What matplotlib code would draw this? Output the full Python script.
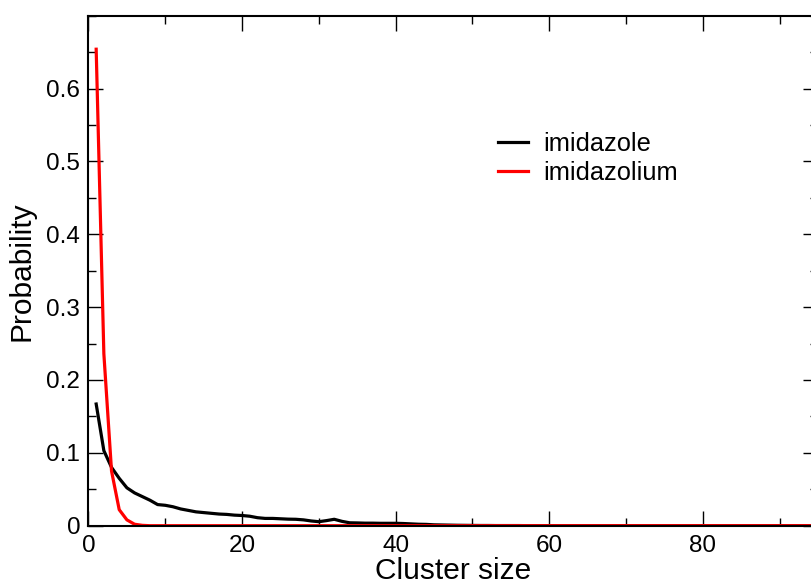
import matplotlib
matplotlib.use('Agg')
import matplotlib.pyplot as plt
from matplotlib.ticker import MultipleLocator

plt.rcParams['font.family'] = ['Liberation Sans', 'DejaVu Sans']

# cluster size 1..95
cluster_size = list(range(1, 96))

# imidazole (black)
imidazole = [
    0.167, 0.103, 0.080, 0.065, 0.052, 0.045, 0.040, 0.035, 0.029, 0.028,
    0.026, 0.023, 0.021, 0.019, 0.018, 0.017, 0.016, 0.0155, 0.0145, 0.014,
    0.013, 0.011, 0.010, 0.010, 0.0095, 0.009, 0.0088, 0.008, 0.0065, 0.0055,
    0.007, 0.0088, 0.006, 0.004, 0.0038, 0.0035, 0.0035, 0.0033, 0.0033, 0.0033,
    0.003, 0.0025, 0.002, 0.0018, 0.0012, 0.001, 0.0008, 0.0006, 0.0005, 0.0004,
    0.0003, 0.0003, 0.0002, 0.0002, 0.0002, 0.0002, 0.0001, 0.0001, 0.0001, 0.0001,
    0.0, 0.0, 0.0, 0.0, 0.0, 0.0, 0.0, 0.0, 0.0, 0.0,
    0.0, 0.0, 0.0, 0.0, 0.0, 0.0, 0.0, 0.0, 0.0, 0.0,
    0.0, 0.0, 0.0, 0.0, 0.0, 0.0, 0.0, 0.0, 0.0, 0.0,
    0.0, 0.0, 0.0, 0.0, 0.0,
]

# imidazolium (red)
imidazolium = [
    0.654, 0.236, 0.075, 0.022, 0.008, 0.002, 0.0005, 0.0, 0.0, 0.0,
    0.0, 0.0, 0.0, 0.0, 0.0, 0.0, 0.0, 0.0, 0.0, 0.0,
    0.0, 0.0, 0.0, 0.0, 0.0, 0.0, 0.0, 0.0, 0.0, 0.0,
    0.0, 0.0, 0.0, 0.0, 0.0, 0.0, 0.0, 0.0, 0.0, 0.0,
    0.0, 0.0, 0.0, 0.0, 0.0, 0.0, 0.0, 0.0, 0.0, 0.0,
    0.0, 0.0, 0.0, 0.0, 0.0, 0.0, 0.0, 0.0, 0.0, 0.0,
    0.0, 0.0, 0.0, 0.0, 0.0, 0.0, 0.0, 0.0, 0.0, 0.0,
    0.0, 0.0, 0.0, 0.0, 0.0, 0.0, 0.0, 0.0, 0.0, 0.0,
    0.0, 0.0, 0.0, 0.0, 0.0, 0.0, 0.0, 0.0, 0.0, 0.0,
    0.0, 0.0, 0.0, 0.0, 0.0,
]

xticks = [0, 20, 40, 60, 80]
yticks = [0, 0.1, 0.2, 0.3, 0.4, 0.5, 0.6]
ytick_labels = ['0', '0.1', '0.2', '0.3', '0.4', '0.5', '0.6']

W, H = 812, 584
fig = plt.figure(figsize=(W / 100, H / 100), dpi=100)
ax = fig.add_axes([88.5 / W, 1 - 525.7 / H, (818 - 88.5) / W, (525.7 - 15.7) / H])

ax.plot(cluster_size, imidazole, color='black', lw=2.3, label='imidazole')
ax.plot(cluster_size, imidazolium, color='#ff0000', lw=2.3, label='imidazolium')

ax.set_xlim(0, 95)
ax.set_ylim(0, 0.7)
ax.set_xticks(xticks)
ax.set_yticks(yticks)
ax.set_yticklabels(ytick_labels)
ax.xaxis.set_minor_locator(MultipleLocator(10))
ax.yaxis.set_minor_locator(MultipleLocator(0.05))
ax.tick_params(which='both', direction='in', top=True, right=True, width=1.0, color='black')
ax.tick_params(which='major', length=10.5, labelsize=17.5, pad=6)
ax.tick_params(which='minor', length=5.5)
ax.tick_params(axis='x', which='major', pad=7)
for s in ax.spines.values():
    s.set_linewidth(1.5)

ax.set_xlabel('Cluster size', fontsize=21.5, labelpad=0)
ax.set_ylabel('Probability', fontsize=21.5, labelpad=8)

ax.legend(loc='upper left', bbox_to_anchor=(498 / W, 1 - 132 / H), bbox_transform=fig.transFigure,
          frameon=False, fontsize=18.3, handlelength=1.2, handletextpad=0.6,
          labelspacing=0.2, borderpad=0, borderaxespad=0)

fig.savefig('out.png', dpi=100)
